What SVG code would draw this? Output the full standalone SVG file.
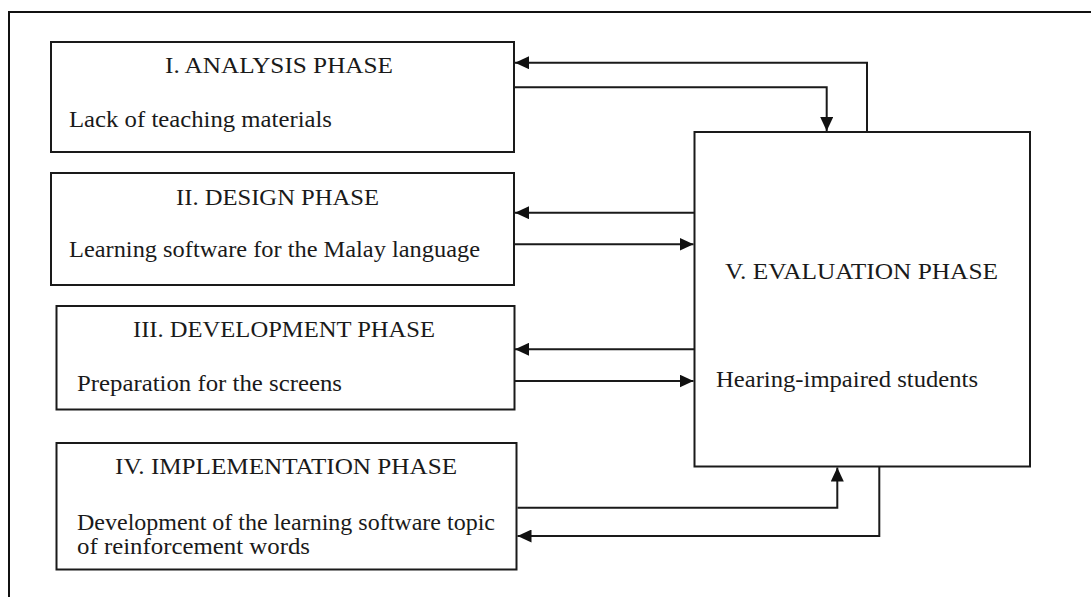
<svg xmlns="http://www.w3.org/2000/svg" width="1091" height="597" viewBox="0 0 1091 597">
  <style>
    .box { fill: #ffffff; stroke: #1a1a1a; stroke-width: 2; }
    .frame { fill: none; stroke: #111111; stroke-width: 2; }
    .conn { fill: none; stroke: #1a1a1a; stroke-width: 2; marker-end: url(#arrow); }
    .title { font-family: "Liberation Serif", "Times New Roman", serif; font-size: 23px; fill: #1a1a1a; }
    .sub { font-family: "Liberation Serif", "Times New Roman", serif; font-size: 24px; fill: #1a1a1a; }
  </style>
  <defs>
    <marker id="arrow" markerUnits="userSpaceOnUse" markerWidth="15" markerHeight="13" refX="14" refY="6.5" orient="auto">
      <path d="M0,0 L14,6.5 L0,13 z" fill="#111111"/>
    </marker>
  </defs>
  <rect width="1091" height="597" fill="#ffffff"/>
  <rect class="frame" x="9" y="12" width="1100" height="600"/>

  <g id="node-analysis">
    <rect class="box" x="51" y="42" width="463" height="110"/>
    <text class="title" x="165" y="73" textLength="228" lengthAdjust="spacingAndGlyphs">I. ANALYSIS PHASE</text>
    <text class="sub" x="69" y="127" textLength="263" lengthAdjust="spacingAndGlyphs">Lack of teaching materials</text>
  </g>

  <g id="node-design">
    <rect class="box" x="51" y="173" width="463" height="112"/>
    <text class="title" x="176" y="205" textLength="203" lengthAdjust="spacingAndGlyphs">II. DESIGN PHASE</text>
    <text class="sub" x="69" y="257" textLength="411" lengthAdjust="spacingAndGlyphs">Learning software for the Malay language</text>
  </g>

  <g id="node-development">
    <rect class="box" x="56.5" y="306" width="458" height="103.5"/>
    <text class="title" x="133" y="337" textLength="302" lengthAdjust="spacingAndGlyphs">III. DEVELOPMENT PHASE</text>
    <text class="sub" x="77" y="391" textLength="265" lengthAdjust="spacingAndGlyphs">Preparation for the screens</text>
  </g>

  <g id="node-implementation">
    <rect class="box" x="56.5" y="443" width="460" height="126.5"/>
    <text class="title" x="115" y="474" textLength="342" lengthAdjust="spacingAndGlyphs">IV. IMPLEMENTATION PHASE</text>
    <text class="sub" x="77" y="530" textLength="418" lengthAdjust="spacingAndGlyphs">Development of the learning software topic</text>
    <text class="sub" x="77" y="554" textLength="233" lengthAdjust="spacingAndGlyphs">of reinforcement words</text>
  </g>

  <g id="node-evaluation">
    <rect class="box" x="694.5" y="132" width="335.5" height="334.5"/>
    <text class="title" x="725" y="279" textLength="273" lengthAdjust="spacingAndGlyphs">V. EVALUATION PHASE</text>
    <text class="sub" x="716" y="387" textLength="262" lengthAdjust="spacingAndGlyphs">Hearing-impaired students</text>
  </g>

  <g id="connectors">
    <path class="conn" d="M867,132 V62.7 H515"/>
    <path class="conn" d="M515,87.3 H826.7 V131"/>
    <path class="conn" d="M694.5,212.7 H515"/>
    <path class="conn" d="M515,244.3 H693.5"/>
    <path class="conn" d="M694.5,349.3 H515"/>
    <path class="conn" d="M515,381 H693.5"/>
    <path class="conn" d="M517.5,507.7 H837.3 V467.5"/>
    <path class="conn" d="M879.3,466.5 V536 H517.5"/>
  </g>
</svg>
